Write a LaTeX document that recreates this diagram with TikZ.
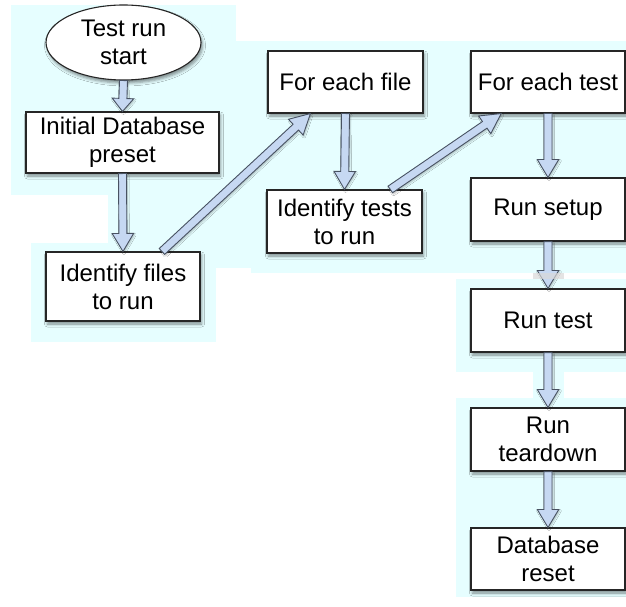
\documentclass[tikz,border=0pt]{standalone}
\usepackage{fontspec}
\setmainfont{Liberation Sans}
\usetikzlibrary{calc,shapes.geometric,shadows.blur}
\definecolor{patch}{RGB}{230,254,255}
\definecolor{arrowfill}{RGB}{198,216,242}
\definecolor{arrowline}{RGB}{72,82,98}

\tikzset{
  stepbox/.style={rectangle, draw=black!85, line width=1.1pt, fill=white,
    align=center, inner sep=0pt,
    font=\fontsize{24}{28}\selectfont,
    minimum width=155pt, minimum height=62pt,
    blur shadow={shadow xshift=1.5pt, shadow yshift=-3pt,
      shadow blur radius=3pt, shadow opacity=45}},
  startnode/.style={stepbox, ellipse, minimum width=155pt, minimum height=75pt},
  bigarrow/.style={draw=arrowline, line width=0.9pt, fill=arrowfill,
    line join=miter,
    blur shadow={shadow xshift=1pt, shadow yshift=-1.5pt,
      shadow blur radius=1.5pt, shadow opacity=25}},
  bgpatch/.style={fill=patch, draw=none}
}

% block arrow from #2 to #3, head length #1
\newcommand\flowarrow[3][18pt]{%
  \coordinate (neck) at ($(#3)!#1!(#2)$);
  \path[bigarrow] ($(#2)!4pt!90:(#3)$) -- ($(neck)!4pt!90:(#3)$)
    -- ($(neck)!10.75pt!90:(#3)$) -- (#3)
    -- ($(neck)!10.75pt!-90:(#3)$) -- ($(neck)!4pt!-90:(#3)$)
    -- ($(#2)!4pt!-90:(#3)$) -- cycle;
}

\begin{document}
\begin{tikzpicture}[x=1pt, y=-1pt]
  \fill[white] (0,0) rectangle (626,607);
  \useasboundingbox (0,0) rectangle (626,607);

  % light background patches
  \fill[bgpatch] (11,5) rectangle (236,195);
  \fill[bgpatch] (108,41) rectangle (251,268);
  \fill[bgpatch] (31,243) rectangle (216,342);
  \fill[bgpatch] (251,41) rectangle (626,273);
  \fill[bgpatch] (456,279) rectangle (626,372);
  \fill[bgpatch] (533,372) rectangle (564,398);
  \fill[bgpatch] (456,398) rectangle (626,597);

  % steps
  \node[startnode] (start) at (123.5,42.5) {Test run\\start};
  \node[stepbox, minimum width=193pt, minimum height=61pt] (init) at (122.5,142.5) {Initial Database\\preset};
  \node[stepbox, minimum width=154pt, minimum height=69pt] (files) at (123,286.5) {Identify files\\to run};
  \node[stepbox] (file) at (345.5,82) {For each file};
  \node[stepbox, minimum height=63pt] (tests) at (344.5,221.5) {Identify tests\\to run};
  \node[stepbox, minimum width=154pt] (ftest) at (548,82) {For each test};
  \node[stepbox, minimum width=154pt, minimum height=63pt] (setup) at (548,209.5) {Run setup};
  \node[stepbox, minimum width=154pt, minimum height=63pt] (run) at (548,320.5) {Run test};
  \node[stepbox, minimum width=154pt, minimum height=63pt] (teardown) at (548,439.5) {Run\\teardown};
  \node[stepbox, minimum width=154pt, minimum height=62pt] (reset) at (548,559) {Database\\reset};

  % connectors
  \flowarrow[13pt]{start.south}{init.north}
  \flowarrow{init.south}{files.north}
  \flowarrow[20pt]{files.42}{file.222}
  \flowarrow{file.south}{tests.north}
  \flowarrow[20pt]{tests.35}{ftest.214}
  \flowarrow{ftest.south}{setup.north}
  \flowarrow{setup.south}{run.north}
  \flowarrow{run.south}{teardown.north}
  \flowarrow{teardown.south}{reset.north}

  % pale band across the setup arrow
  \fill[gray!30, opacity=0.7] (533,273) rectangle (564,279);
\end{tikzpicture}
\end{document}
